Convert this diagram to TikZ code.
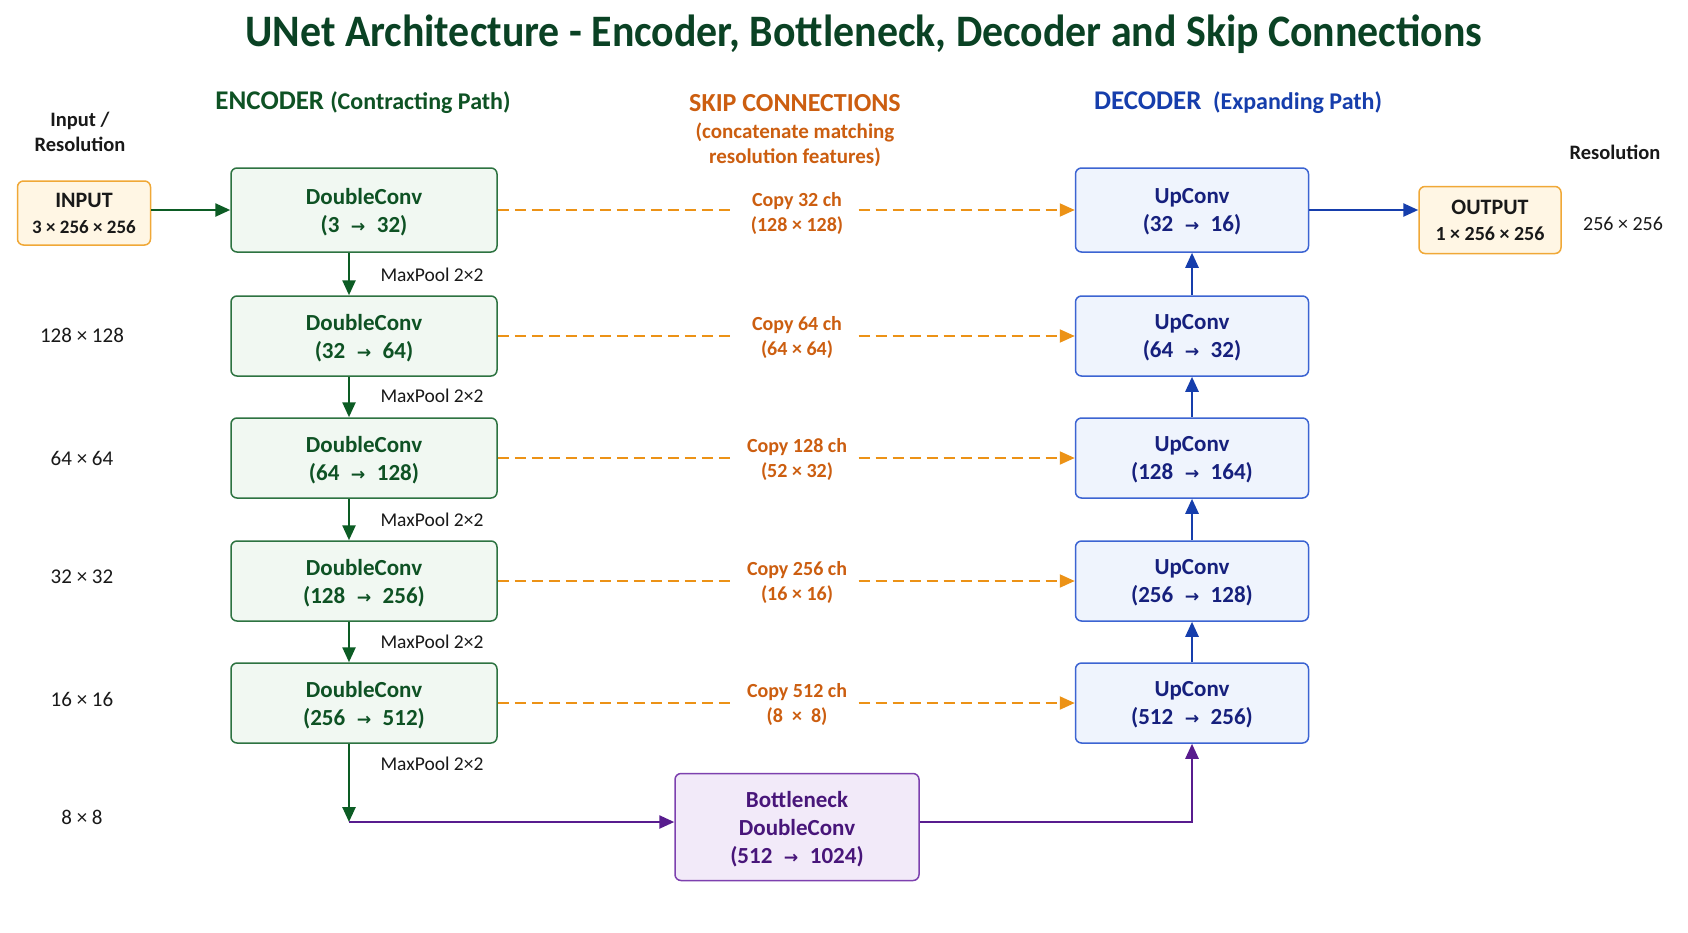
\documentclass[tikz,border=0pt]{standalone}
\usepackage{fontspec}
\setmainfont{Carlito}
\newfontfamily\titlef[FakeStretch=0.93]{Carlito}
\newfontfamily\symf[Scale=0.75]{DejaVu Sans}
\usetikzlibrary{arrows.meta}
\newcommand{\rarr}{\enspace{\symf →}\enspace}
\definecolor{titleC}{RGB}{10,66,36}
\definecolor{encD}{RGB}{45,115,65}
\definecolor{encF}{RGB}{241,248,242}
\definecolor{encT}{RGB}{14,82,36}
\definecolor{encA}{RGB}{12,92,36}
\definecolor{decD}{RGB}{60,100,210}
\definecolor{decF}{RGB}{239,244,253}
\definecolor{decT}{RGB}{22,32,125}
\definecolor{decA}{RGB}{22,62,172}
\definecolor{skipC}{RGB}{236,146,22}
\definecolor{skipT}{RGB}{204,94,16}
\definecolor{ioD}{RGB}{240,168,55}
\definecolor{ioF}{RGB}{255,246,228}
\definecolor{botD}{RGB}{125,65,175}
\definecolor{botF}{RGB}{242,234,249}
\definecolor{botT}{RGB}{72,22,122}
\definecolor{botA}{RGB}{88,28,142}
\definecolor{txt}{RGB}{25,25,25}
\tikzset{
  boxbase/.style={rounded corners=6pt, line width=1.5pt, align=center,
    font=\fontsize{23}{28}\selectfont\bfseries, inner sep=0pt, text depth=0pt},
  encbox/.style={boxbase, draw=encD, fill=encF, text=encT, minimum width=266pt, minimum height=80pt},
  decbox/.style={boxbase, draw=decD, fill=decF, text=decT, minimum width=233pt, minimum height=80pt},
  iobox/.style={rounded corners=6pt, line width=1.5pt, align=center, draw=ioD, fill=ioF, text=txt, inner sep=0pt, text depth=0pt,
    font=\fontsize{22}{26}\selectfont\bfseries},
  botbox/.style={boxbase, draw=botD, fill=botF, text=botT, minimum width=244pt, minimum height=107pt},
  tip/.style={-{Triangle[length=15pt,width=13pt]}},
  garrow/.style={tip, draw=encA, line width=2.5pt},
  barrow/.style={tip, draw=decA, line width=2.5pt},
  parrow/.style={tip, draw=botA, line width=2.5pt},
  skipline/.style={draw=skipC, line width=2pt, dash pattern=on 11pt off 6pt},
  skiplabel/.style={align=center, text=skipT, font=\fontsize{20}{25}\selectfont\bfseries, minimum width=123pt, inner sep=0pt},
  poollabel/.style={anchor=west, text=txt, font=\fontsize{19.5}{22}\selectfont},
  reslabel/.style={text=txt, font=\fontsize{21}{23}\selectfont},
}
\begin{document}
\begin{tikzpicture}[x=1pt,y=-1pt]
\useasboundingbox[fill=white] (0,0) rectangle (1688,932);

% title and headers
\node[text=titleC, font=\titlef\fontsize{45}{50}\selectfont\bfseries] (title) at (864,34) {UNet Architecture - Encoder, Bottleneck, Decoder and Skip Connections};
\node[text=encT, font=\fontsize{27}{30}\selectfont\bfseries] (hEnc) at (363,103) {ENCODER {\fontsize{24}{28}\selectfont(Contracting Path)}};
\node[text=skipT, font=\fontsize{26}{30}\selectfont\bfseries] (hSkip) at (795,103) {SKIP CONNECTIONS};
\node[text=skipT, font=\fontsize{21}{25}\selectfont\bfseries, align=center] (hSkip2) at (795,145) {(concatenate matching\\resolution features)};
\node[text=decA, font=\fontsize{27}{30}\selectfont\bfseries] (hDec) at (1238,103) {DECODER {\fontsize{24}{28}\selectfont\ (Expanding Path)}};
\node[text=txt, font=\fontsize{20.5}{25}\selectfont\bfseries, align=center] (hIn) at (80,132) {Input /\\Resolution};
\node[text=txt, font=\fontsize{20.5}{25}\selectfont\bfseries] (hOut) at (1615,152) {Resolution};

% input / output
\node[iobox, minimum width=133pt, minimum height=64pt] (in) at (84,213)
  {INPUT\\{\fontsize{19}{26}\selectfont 3 × 256 × 256}};
\node[iobox, minimum width=142pt, minimum height=67pt] (out) at (1490,220)
  {OUTPUT\\{\fontsize{20}{26}\selectfont 1 × 256 × 256}};
\node[reslabel, font=\fontsize{20}{23}\selectfont] (rOut) at (1623,224) {256 × 256};

% encoder
\node[encbox, minimum height=84pt] (e1) at (364,210) {DoubleConv\\(3\rarr32)};
\node[encbox] (e2) at (364,336) {DoubleConv\\(32\rarr64)};
\node[encbox] (e3) at (364,458) {DoubleConv\\(64\rarr128)};
\node[encbox] (e4) at (364,581) {DoubleConv\\(128\rarr256)};
\node[encbox] (e5) at (364,703) {DoubleConv\\(256\rarr512)};

% decoder
\node[decbox, minimum height=84pt] (d1) at (1192,210) {UpConv\\(32\rarr16)};
\node[decbox] (d2) at (1192,336) {UpConv\\(64\rarr32)};
\node[decbox] (d3) at (1192,458) {UpConv\\(128\rarr164)};
\node[decbox] (d4) at (1192,581) {UpConv\\(256\rarr128)};
\node[decbox] (d5) at (1192,703) {UpConv\\(512\rarr256)};

% bottleneck
\node[botbox] (bott) at (797,827) {Bottleneck\\DoubleConv\\(512\rarr1024)};

% resolution labels
\node[reslabel] (r2) at (82,335) {128 × 128};
\node[reslabel] (r3) at (82,458) {64 × 64};
\node[reslabel] (r4) at (82,577) {32 × 32};
\node[reslabel] (r5) at (82,699) {16 × 16};
\node[reslabel] (r6) at (82,817) {8 × 8};

% maxpool labels
\node[poollabel] (p1) at (377,275) {MaxPool 2×2};
\node[poollabel] (p2) at (377,396) {MaxPool 2×2};
\node[poollabel] (p3) at (377,520) {MaxPool 2×2};
\node[poollabel] (p4) at (377,642) {MaxPool 2×2};
\node[poollabel] (p5) at (377,764) {MaxPool 2×2};

% skip labels
\node[skiplabel] (s1) at (797,213) {Copy 32 ch\\(128 × 128)};
\node[skiplabel] (s2) at (797,337) {Copy 64 ch\\(64 × 64)};
\node[skiplabel] (s3) at (797,459) {Copy 128 ch\\(52 × 32)};
\node[skiplabel] (s4) at (797,582) {Copy 256 ch\\(16 × 16)};
\node[skiplabel] (s5) at (797,704) {Copy 512 ch\\(8 ~×~ 8)};

% skip connections
\foreach \i in {1,...,5}{
  \draw[skipline] (e\i.east) -- (e\i.east -| s\i.west);
  \draw[skipline, -{Triangle[length=15pt,width=13pt]}] (e\i.east -| s\i.east) -- (d\i.west);
}

% encoder arrows
\draw[garrow] (in.east |- e1.west) -- (e1.west);
\draw[garrow] ([xshift=-15pt]e1.south) -- ([xshift=-15pt]e2.north);
\draw[garrow] ([xshift=-15pt]e2.south) -- ([xshift=-15pt]e3.north);
\draw[garrow] ([xshift=-15pt]e3.south) -- ([xshift=-15pt]e4.north);
\draw[garrow] ([xshift=-15pt]e4.south) -- ([xshift=-15pt]e5.north);
\coordinate (c1) at (349,822);
\draw[garrow] ([xshift=-15pt]e5.south) -- (c1);

% bottleneck paths
\draw[parrow] (c1) -- (c1 -| bott.west);
\draw[parrow] (bott.east |- c1) -| (d5.south);

% decoder arrows
\draw[barrow] (d5.north) -- (d4.south);
\draw[barrow] (d4.north) -- (d3.south);
\draw[barrow] (d3.north) -- (d2.south);
\draw[barrow] (d2.north) -- (d1.south);
\draw[barrow] (d1.east) -- (d1.east -| out.west);
\end{tikzpicture}
\end{document}
